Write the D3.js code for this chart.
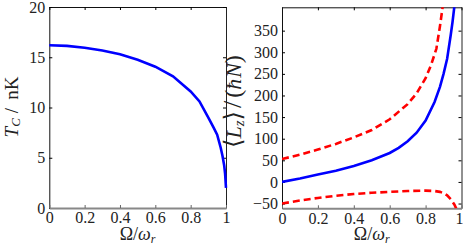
<!DOCTYPE html>
<html>
<head>
<meta charset="utf-8">
<script src="https://cdnjs.cloudflare.com/ajax/libs/d3/7.8.5/d3.min.js"></script>
<style>
body { margin: 0; background: #fff; }
svg text, .tick text { font-family: "Liberation Serif", "DejaVu Serif", serif !important; }
</style>
</head>
<body>
<div id="drawhere"></div>
<script>
// left panel: critical temperature vs rotation
var omegaTc = [0, 0.1, 0.2, 0.3, 0.4, 0.5, 0.6, 0.7, 0.8, 0.85, 0.9, 0.93, 0.95, 0.97, 0.98, 0.99, 0.995, 1.0];
var tcValues = [16.2, 16.13, 15.95, 15.68, 15.3, 14.75, 14.06, 13.1, 11.6, 10.6, 9.0, 8.0, 7.3, 6.0, 5.2, 4.2, 3.4, 2.0];

// right panel: angular momentum, mean and the two dashed curves
var omegaMean = [0, 0.1, 0.2, 0.3, 0.4, 0.5, 0.6, 0.65, 0.7, 0.75, 0.8, 0.85, 0.88, 0.9, 0.92, 0.94, 0.95, 0.96, 0.97];
var lzMean = [0, 8, 17, 26, 37, 50, 67, 79, 94, 114, 142, 185, 220, 250, 285, 340, 370, 405, 450];
var omegaUpper = [0, 0.1, 0.2, 0.3, 0.4, 0.5, 0.6, 0.7, 0.75, 0.8, 0.83, 0.86, 0.88, 0.9, 0.92];
var lzUpper = [53, 63, 75, 88, 103, 120, 145, 180, 205, 240, 270, 308, 360, 420, 480];
var omegaLower = [0, 0.1, 0.2, 0.3, 0.4, 0.5, 0.6, 0.7, 0.8, 0.85, 0.88, 0.9, 0.92, 0.94, 0.96, 0.98];
var lzLower = [-50, -43, -37, -32, -28, -25, -23, -21, -20, -21, -23, -26, -31, -40, -52, -70];

var xTicks = [0, 0.2, 0.4, 0.6, 0.8, 1];
var xTickLabels = ["0", "0.2", "0.4", "0.6", "0.8", "1"];
var tcTicks = [0, 5, 10, 15, 20];
var lzTicks = [-50, 0, 50, 100, 150, 200, 250, 300, 350];

var svg = d3.select("#drawhere").append("svg")
    .attr("width", 463)
    .attr("height", 245);

function styleLabels(a) {
    a.attr("font-family", null);
    a.selectAll("text")
        .style("font-size", "16px")
        .attr("fill", "#222");
}

function drawFrame(g, x, y, yTicks, id) {
    var x0 = x.range()[0], x1 = x.range()[1];
    var y0 = y.range()[0], y1 = y.range()[1];

    // top and right ticks, no labels
    g.append("g")
        .attr("transform", "translate(0," + y1 + ")")
        .call(d3.axisTop(x).tickValues(xTicks).tickSize(-3).tickSizeOuter(0).tickFormat(""))
        .call(function(a) { a.select(".domain").attr("stroke", "#111"); });
    g.append("g")
        .attr("transform", "translate(" + x1 + ",0)")
        .call(d3.axisRight(y).tickValues(yTicks).tickSize(-3).tickSizeOuter(0).tickFormat(""))
        .call(function(a) { a.select(".domain").attr("stroke", "#222"); });

    var left = g.append("g")
        .attr("transform", "translate(" + x0 + ",0)")
        .call(d3.axisLeft(y).tickValues(yTicks).tickSize(-3).tickSizeOuter(0).tickPadding(4));
    left.select(".domain").attr("stroke", "#111");
    styleLabels(left);

    var bottom = g.append("g")
        .attr("transform", "translate(0," + y0 + ")")
        .call(d3.axisBottom(x).tickValues(xTicks).tickSize(-3).tickSizeOuter(0).tickPadding(4)
            .tickFormat(function(d, i) { return xTickLabels[i]; }));
    bottom.select(".domain").attr("stroke", "#888").attr("stroke-width", 2);
    bottom.selectAll(".tick line").attr("stroke", "#666");
    styleLabels(bottom);

    svg.append("clipPath").attr("id", id)
        .append("rect")
        .attr("x", x0).attr("y", y1)
        .attr("width", x1 - x0).attr("height", y0 - y1);
    return bottom;
}

function drawXLabel(cx) {
    var t = svg.append("text")
        .attr("x", cx)
        .attr("y", 240)
        .attr("text-anchor", "middle")
        .attr("fill", "#222")
        .style("font-size", "18px");
    t.append("tspan").text("\u03A9/");
    t.append("tspan").attr("font-style", "italic").text("\u03C9");
    t.append("tspan").attr("font-style", "italic").style("font-size", "12px").attr("dy", 3).text("r");
}

function drawLeft() {
    var x = d3.scaleLinear().domain([0, 1]).range([49.3, 226]);
    var y = d3.scaleLinear().domain([0, 20]).range([208, 7]);
    var g = svg.append("g");
    drawFrame(g, x, y, tcTicks, "clipLeft");

    var line = d3.line()
        .x(function(d, i) { return x(omegaTc[i]); })
        .y(function(d) { return y(d); });
    g.append("path")
        .datum(tcValues)
        .attr("d", line)
        .attr("fill", "none")
        .attr("stroke", "#0000ff")
        .attr("stroke-width", 2.6);

    var lab = svg.append("text")
        .attr("transform", "translate(18,107) rotate(-90)")
        .attr("text-anchor", "middle")
        .attr("fill", "#222")
        .style("font-size", "19px");
    lab.append("tspan").attr("font-style", "italic").text("T");
    lab.append("tspan").attr("font-style", "italic").style("font-size", "13px").attr("dy", 2).text("C");
    lab.append("tspan").attr("dy", -2).attr("dx", 5).text("/");
    lab.append("tspan").attr("dx", 8).text("nK");

    drawXLabel(137.6);
}

function drawRight() {
    var x = d3.scaleLinear().domain([0, 1]).range([282, 461.5]);
    var y = d3.scaleLinear().domain([-61, 404]).range([208.3, 7.3]);
    var g = svg.append("g");
    var bottom = drawFrame(g, x, y, lzTicks, "clipRight");
    // last label sits at the window edge, nudge it in a little
    bottom.selectAll(".tick text").filter(function(d) { return d === 1; }).attr("dx", -2.5);

    function lineFor(xs) {
        return d3.line()
            .x(function(d, i) { return x(xs[i]); })
            .y(function(d) { return y(d); });
    }
    var curves = g.append("g").attr("clip-path", "url(#clipRight)");
    curves.append("path")
        .datum(lzUpper)
        .attr("d", lineFor(omegaUpper))
        .attr("fill", "none")
        .attr("stroke", "#ff0000")
        .attr("stroke-width", 2.6)
        .attr("stroke-dasharray", "7,4");
    curves.append("path")
        .datum(lzLower)
        .attr("d", lineFor(omegaLower))
        .attr("fill", "none")
        .attr("stroke", "#ff0000")
        .attr("stroke-width", 2.6)
        .attr("stroke-dasharray", "7,4");
    curves.append("path")
        .datum(lzMean)
        .attr("d", lineFor(omegaMean))
        .attr("fill", "none")
        .attr("stroke", "#0000ff")
        .attr("stroke-width", 2.6);

    var lab = svg.append("text")
        .attr("transform", "translate(241,101.5) rotate(-90)")
        .attr("text-anchor", "middle")
        .attr("fill", "#222")
        .style("font-size", "22px");
    lab.append("tspan").style("font-size", "24px").text("\u27E8");
    lab.append("tspan").attr("font-style", "italic").text("L");
    lab.append("tspan").attr("font-style", "italic").style("font-size", "15px").attr("dy", 3).text("z");
    lab.append("tspan").attr("dy", -3).style("font-size", "24px").text("\u27E9");
    lab.append("tspan").attr("dx", 3).style("font-size", "26px").text("/");
    lab.append("tspan").attr("dx", 3).style("font-size", "24px").text("(");
    lab.append("tspan").attr("font-style", "italic").text("\u0127");
    lab.append("tspan").attr("font-style", "italic").attr("dx", 1).text("N");
    lab.append("tspan").style("font-size", "24px").text(")");

    drawXLabel(371.7);
}

drawLeft();
drawRight();
</script>
</body>
</html>
